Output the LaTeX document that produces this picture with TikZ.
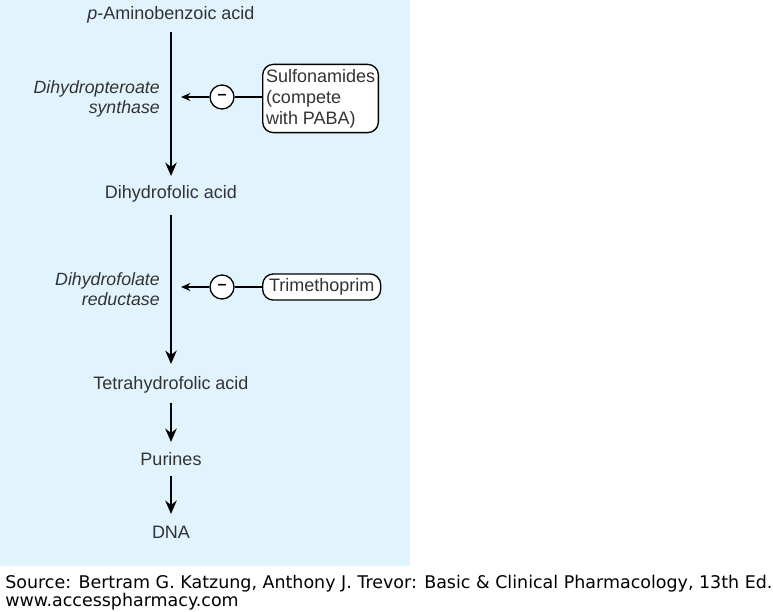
\documentclass[tikz,border=0pt]{standalone}
\usepackage{fontspec}
\setmainfont{Liberation Sans}
\newfontfamily\footfont{DejaVu Sans}
\usetikzlibrary{arrows.meta}
\definecolor{bgblue}{HTML}{E1F3FD}
\definecolor{txt}{HTML}{333333}
\tikzset{
  x=0.75pt, y=-0.75pt,
  lbl/.style={font=\fontsize{13.5pt}{15pt}\selectfont, text=txt, inner sep=1pt},
  enz/.style={font=\itshape\fontsize{13.3pt}{14.5pt}\selectfont, text=txt, align=right, inner sep=0pt, anchor=east},
  mainarrow/.style={line width=2pt, -{Stealth[length=10pt,width=8.5pt]}},
  inharrow/.style={line width=1pt, -{Stealth[length=7pt,width=6pt]}},
  inhline/.style={line width=1pt},
  minus/.style={circle, draw, line width=1pt, fill=white, minimum size=18pt, inner sep=0pt, font=\bfseries\fontsize{12pt}{12pt}\selectfont},
  drug/.style={draw, line width=1pt, rounded corners=8pt, fill=white, text=txt, font=\fontsize{13.5pt}{15.8pt}\selectfont, align=left, inner xsep=2.5pt, inner ysep=3.5pt, anchor=west},
  foot/.style={font=\footfont\fontsize{13.1pt}{15pt}\selectfont, text=black, anchor=west, inner sep=0pt}
}
\begin{document}
\begin{tikzpicture}
\useasboundingbox (0,0) rectangle (773,611);
\fill[bgblue] (0,0) rectangle (410,566);

\node[lbl] (paba) at (171,15) {\textit{p}-Aminobenzoic acid};
\node[lbl] (dhf) at (171,194) {Dihydrofolic acid};
\node[lbl] (thf) at (171,385) {Tetrahydrofolic acid};
\node[lbl] (pur) at (171,459) {Purines};
\node[lbl] (dna) at (171,532) {DNA};

\coordinate (a1s) at (171,32);
\coordinate (a1e) at (171,176);
\coordinate (a2s) at (171,215);
\coordinate (a2e) at (171,364);
\coordinate (a3s) at (171,403);
\coordinate (a3e) at (171,442);
\coordinate (a4s) at (171,476);
\coordinate (a4e) at (171,514);
\draw[mainarrow] (a1s) -- (a1e);
\draw[mainarrow] (a2s) -- (a2e);
\draw[mainarrow] (a3s) -- (a3e);
\draw[mainarrow] (a4s) -- (a4e);

\node[enz] (e1) at (160,99) {Dihydropteroate\\synthase};
\node[enz] (e2) at (160,289) {Dihydrofolate\\reductase};

\node[drug] (sulf) at (262,98.5) {Sulfonamides\\(compete\\with PABA)};
\node[drug] (tmp) at (262,287) {\,Trimethoprim\,};

\node[minus] (m1) at (222,97) {--};
\node[minus] (m2) at (222,287) {--};

\coordinate (t1) at (181,97);
\coordinate (t2) at (181,287);
\draw[inhline] (sulf.west |- m1) -- (m1);
\draw[inharrow] (m1) -- (t1);
\draw[inhline] (tmp.west |- m2) -- (m2);
\draw[inharrow] (m2) -- (t2);

\node[foot] (src) at (5,584) {Source: Bertram G. Katzung, Anthony J. Trevor: Basic \& Clinical Pharmacology, 13th Ed.};
\node[foot] (url) at (5,602) {www.accesspharmacy.com};
\end{tikzpicture}
\end{document}
